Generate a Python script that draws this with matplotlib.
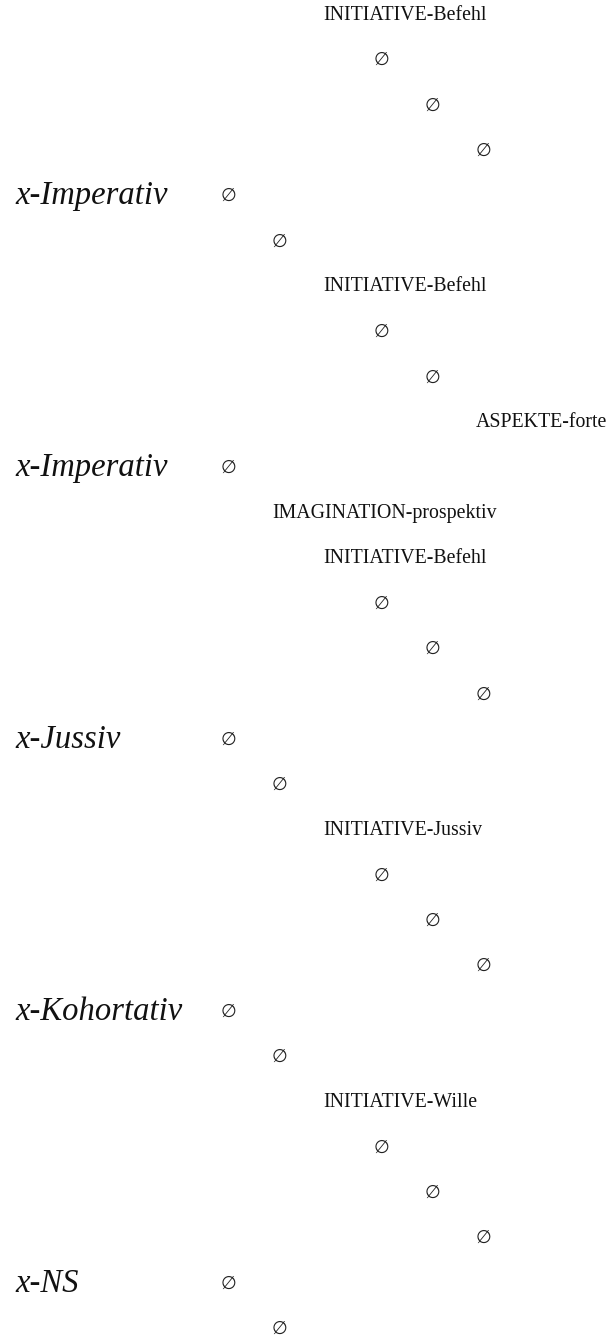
import matplotlib.pyplot as plt

# one entry per line of the tree, top to bottom
row_text = [
    "INITIATIVE-Befehl", "∅", "∅", "∅", "∅", "∅",
    "INITIATIVE-Befehl", "∅", "∅", "ASPEKTE-forte", "∅",
    "IMAGINATION-prospektiv", "INITIATIVE-Befehl", "∅", "∅", "∅", "∅", "∅",
    "INITIATIVE-Jussiv", "∅", "∅", "∅", "∅", "∅",
    "INITIATIVE-Wille", "∅", "∅", "∅", "∅", "∅",
]
# tree depth of each line
row_depth = [
    2, 3, 4, 5, 0, 1,
    2, 3, 4, 5, 0,
    1, 2, 3, 4, 5, 0, 1,
    2, 3, 4, 5, 0, 1,
    2, 3, 4, 5, 0, 1,
]
# italic category names, and the line they sit on
cat_names = ["x-Imperativ", "x-Imperativ", "x-Jussiv", "x-Kohortativ", "x-NS"]
cat_rows = [4, 10, 16, 22, 28]

W, H = 616, 1342
fig = plt.figure(figsize=(W / 100, H / 100), dpi=100)
ax = fig.add_axes([0, 0, 1, 1])
ax.set_xlim(0, W)
ax.set_ylim(H, 0)
ax.axis("off")

x0, dx = 228, 51      # centre of depth-0 column, column spacing
top, step = 15, 45.3  # first line, line spacing

serif = ["Liberation Serif", "DejaVu Sans"]
for i, (txt, d) in enumerate(zip(row_text, row_depth)):
    y = top + i * step
    x = x0 + d * dx
    if txt == "∅":
        ax.text(x, y, txt, ha="center", va="center",
                fontsize=13, family=["DejaVu Sans"], color="#222222")
    else:
        ax.text(x - 7, y, txt, ha="left", va="center",
                fontsize=14.3, family=serif, color="#111111")

for name, r in zip(cat_names, cat_rows):
    ax.text(15, top + r * step, name, ha="left", va="center",
            fontsize=23.5, family=serif, style="italic", color="#111111")

fig.savefig("out.png", dpi=100, facecolor="white")
